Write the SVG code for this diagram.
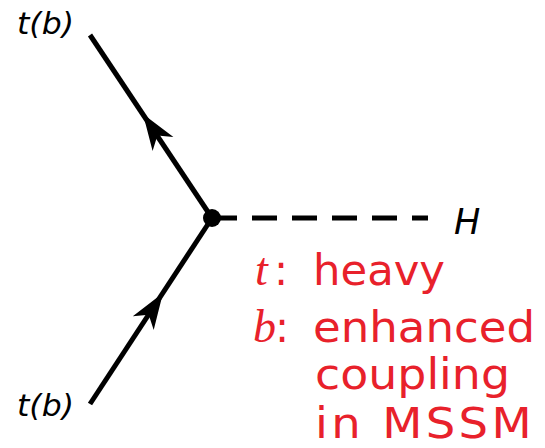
<svg xmlns="http://www.w3.org/2000/svg" width="545" height="448" viewBox="0 0 545 448">
<style>
.lbl{font-family:"DejaVu Sans",sans-serif;font-style:italic;fill:#000}
.red{font-family:"DejaVu Sans",sans-serif;fill:#e8212b;font-size:42px}
.math{font-family:"Liberation Serif",serif;font-style:italic;fill:#e8212b;font-size:46px}
.line{stroke:#000;stroke-width:5;fill:none}
</style>
<rect width="545" height="448" fill="#fff"/>
<g id="connectors">
<line class="line" x1="90" y1="35" x2="212" y2="218"/>
<line class="line" x1="90" y1="404" x2="212" y2="218"/>
<line class="line" x1="212" y1="218" x2="428" y2="218" stroke-width="5.5" stroke-dasharray="25 15"/>
<path d="M143,114 L173.4,137 L157.4,135.6 L152.6,150.9 Z" fill="#000"/>
<path d="M163,293 L153.7,330 L148.7,314.7 L132.8,316.2 Z" fill="#000"/>
</g>
<g id="vertex"><circle cx="212" cy="218" r="9" fill="#000"/></g>
<g id="top-fermion"><text class="lbl" x="17" y="34" font-size="30" textLength="57" lengthAdjust="spacingAndGlyphs">t(b)</text></g>
<g id="bottom-fermion"><text class="lbl" x="17" y="416" font-size="30" textLength="57" lengthAdjust="spacingAndGlyphs">t(b)</text></g>
<g id="higgs"><text class="lbl" x="454" y="234" font-size="35">H</text></g>
<g id="note">
<text x="255" y="285"><tspan class="math">t</tspan><tspan class="red" x="274">:</tspan></text>
<text class="red" x="313" y="285" textLength="132" lengthAdjust="spacingAndGlyphs">heavy</text>
<text x="253" y="342"><tspan class="math">b</tspan><tspan class="red" x="275">:</tspan></text>
<text class="red" x="313" y="342" textLength="222" lengthAdjust="spacingAndGlyphs">enhanced</text>
<text class="red" x="315" y="389" textLength="195" lengthAdjust="spacingAndGlyphs">coupling</text>
<text class="red" x="315" y="438" letter-spacing="3" textLength="220" lengthAdjust="spacingAndGlyphs">in MSSM</text>
</g>
</svg>
